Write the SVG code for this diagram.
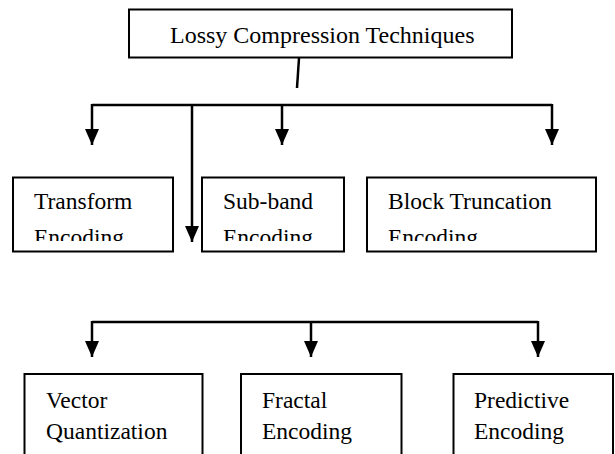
<svg xmlns="http://www.w3.org/2000/svg" width="615" height="454" viewBox="0 0 615 454">
<style>
.box{fill:#fff;stroke:#000;stroke-width:2}
.t{font-family:"Liberation Serif","Times New Roman",serif;font-size:23.5px;fill:#000}
.c{fill:none;stroke:#000;stroke-width:2.5}
</style>
<defs>
<marker id="ah" viewBox="0 0 16 14" refX="16" refY="7" markerWidth="16" markerHeight="14" markerUnits="userSpaceOnUse" orient="auto">
<path d="M0,0 L16,7 L0,14 z" fill="#000"/>
</marker>
<clipPath id="cl"><rect x="0" y="0" width="615" height="241"/></clipPath>
</defs>
<rect width="615" height="454" fill="#fff"/>
<g id="connectors">
<line class="c" x1="299" y1="58" x2="297" y2="88"/>
<polyline class="c" points="92,105 552,105"/>
<line class="c" x1="92" y1="104" x2="92" y2="145" marker-end="url(#ah)"/>
<line class="c" x1="192" y1="104" x2="192" y2="242" marker-end="url(#ah)"/>
<line class="c" x1="282" y1="104" x2="282" y2="145" marker-end="url(#ah)"/>
<line class="c" x1="552" y1="104" x2="552" y2="145" marker-end="url(#ah)"/>
<polyline class="c" points="92,322 538,322"/>
<line class="c" x1="92" y1="321" x2="92" y2="357" marker-end="url(#ah)"/>
<line class="c" x1="311" y1="321" x2="311" y2="357" marker-end="url(#ah)"/>
<line class="c" x1="538" y1="321" x2="538" y2="357" marker-end="url(#ah)"/>
</g>
<g id="root">
<rect class="box" x="129" y="9.5" width="383" height="48"/>
<text class="t" x="170" y="43" style="font-size:24px">Lossy Compression Techniques</text>
</g>
<g id="transform">
<rect class="box" x="13" y="177.5" width="160" height="74"/>
<text class="t" x="34" y="209">Transform</text>
<text class="t" x="34" y="245" clip-path="url(#cl)">Encoding</text>
</g>
<g id="subband">
<rect class="box" x="202" y="177.5" width="142" height="74"/>
<text class="t" x="223" y="209">Sub-band</text>
<text class="t" x="223" y="245" clip-path="url(#cl)">Encoding</text>
</g>
<g id="block">
<rect class="box" x="367" y="177.5" width="229" height="74"/>
<text class="t" x="388" y="209">Block Truncation</text>
<text class="t" x="388" y="245" clip-path="url(#cl)">Encoding</text>
</g>
<g id="vector">
<rect class="box" x="24.5" y="374" width="178" height="100"/>
<text class="t" x="46" y="408">Vector</text>
<text class="t" x="46" y="439">Quantization</text>
</g>
<g id="fractal">
<rect class="box" x="241" y="374" width="160.5" height="100"/>
<text class="t" x="262" y="408">Fractal</text>
<text class="t" x="262" y="439">Encoding</text>
</g>
<g id="predictive">
<rect class="box" x="453.5" y="374" width="159.5" height="100"/>
<text class="t" x="474" y="408">Predictive</text>
<text class="t" x="474" y="439">Encoding</text>
</g>
</svg>
